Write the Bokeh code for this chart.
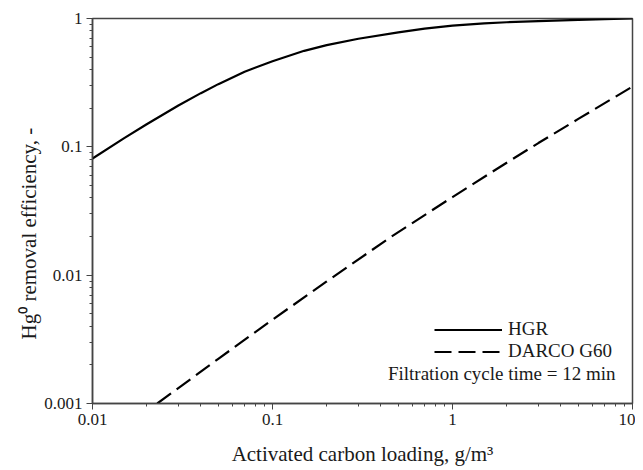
from bokeh.plotting import figure
from bokeh.embed import file_html
from bokeh.resources import INLINE
from bokeh.models import Legend, LegendItem, Label, Title, FixedTicker, CustomJSTickFormatter

# Data
hgr_x = [0.01, 0.015, 0.02, 0.03, 0.04, 0.05, 0.07, 0.1, 0.15, 0.2, 0.3, 0.5, 0.7, 1, 1.5, 2, 3, 5, 7, 10]
hgr_y = [0.081, 0.117, 0.150, 0.210, 0.262, 0.308, 0.385, 0.465, 0.56, 0.62, 0.695, 0.78, 0.835, 0.88, 0.915, 0.935, 0.955, 0.975, 0.988, 1.0]

darco_x = [0.0229, 0.05, 0.1, 0.2, 0.453, 1, 2, 3, 5, 10]
darco_y = [0.001, 0.00223, 0.0045, 0.00893, 0.0198, 0.0406, 0.0752, 0.107, 0.165, 0.295]

x_major = [0.01, 0.1, 1, 10]
y_major = [0.001, 0.01, 0.1, 1]
x_minor = [m * 10.0 ** e for e in range(-2, 1) for m in range(2, 10)]
y_minor = [m * 10.0 ** e for e in range(-3, 0) for m in range(2, 10)]

FONT = "Liberation Serif"
AXC = "#444444"
TXT = "#1a1a1a"

p = figure(width=635, height=468, x_axis_type="log", y_axis_type="log",
           x_range=(0.01, 10), y_range=(0.001, 1),
           output_backend="svg", toolbar_location=None,
           min_border_left=92, min_border_right=3, min_border_top=18, min_border_bottom=62)

p.xgrid.visible = False
p.ygrid.visible = False
p.outline_line_color = AXC
p.outline_line_width = 1.5
p.background_fill_color = "white"
p.border_fill_color = "white"

fmt = CustomJSTickFormatter(code="return String(parseFloat(tick.toPrecision(3)));")

p.xaxis.ticker = FixedTicker(ticks=x_major, minor_ticks=x_minor)
p.yaxis.ticker = FixedTicker(ticks=y_major, minor_ticks=y_minor)
p.xaxis.formatter = fmt
p.yaxis.formatter = fmt

for ax in (p.xaxis[0], p.yaxis[0]):
    ax.axis_line_color = AXC
    ax.axis_line_width = 1.5
    ax.major_tick_line_color = AXC
    ax.minor_tick_line_color = AXC
    ax.major_tick_in = 0
    ax.major_tick_out = 6
    ax.minor_tick_in = 0
    ax.minor_tick_out = 3
    ax.major_label_text_font = FONT
    ax.major_label_text_font_size = "17px"
    ax.major_label_text_color = TXT
    ax.axis_label_text_font = FONT
    ax.axis_label_text_font_size = "21px"
    ax.axis_label_text_font_style = "normal"
    ax.axis_label_text_color = TXT

p.xaxis.major_label_standoff = 4
p.yaxis.major_label_standoff = 4
p.xaxis.axis_label = "Activated carbon loading, g/m³"
p.xaxis.axis_label_standoff = 14

# y-axis title, placed as in the reference (slightly below the frame centre)
ytitle = Title(text="Hg⁰ removal efficiency, -", align="left", offset=64,
               standoff=0, vertical_align="middle",
               text_font=FONT, text_font_size="21px", text_font_style="normal",
               text_color=TXT)
p.add_layout(ytitle, "left")

r1 = p.line(hgr_x, hgr_y, line_color="black", line_width=2.2)
r2 = p.line(darco_x, darco_y, line_color="black", line_width=2.2, line_dash="17 7")

legend = Legend(items=[LegendItem(label="HGR", renderers=[r1]),
                       LegendItem(label="DARCO G60", renderers=[r2])],
                location=(342, 41), padding=0, margin=0, spacing=0,
                glyph_width=68, glyph_height=21, label_height=21,
                label_text_font=FONT, label_text_font_size="19px",
                label_text_color=TXT, label_standoff=6,
                border_line_alpha=0, background_fill_alpha=0)
p.add_layout(legend, "center")

note = Label(x=10, y=0.0017, x_offset=-17, text="Filtration cycle time = 12 min",
             text_font=FONT, text_font_size="19px", text_color=TXT,
             text_align="right", text_baseline="middle")
p.add_layout(note)

open("out.html", "w").write(file_html(p, INLINE))
